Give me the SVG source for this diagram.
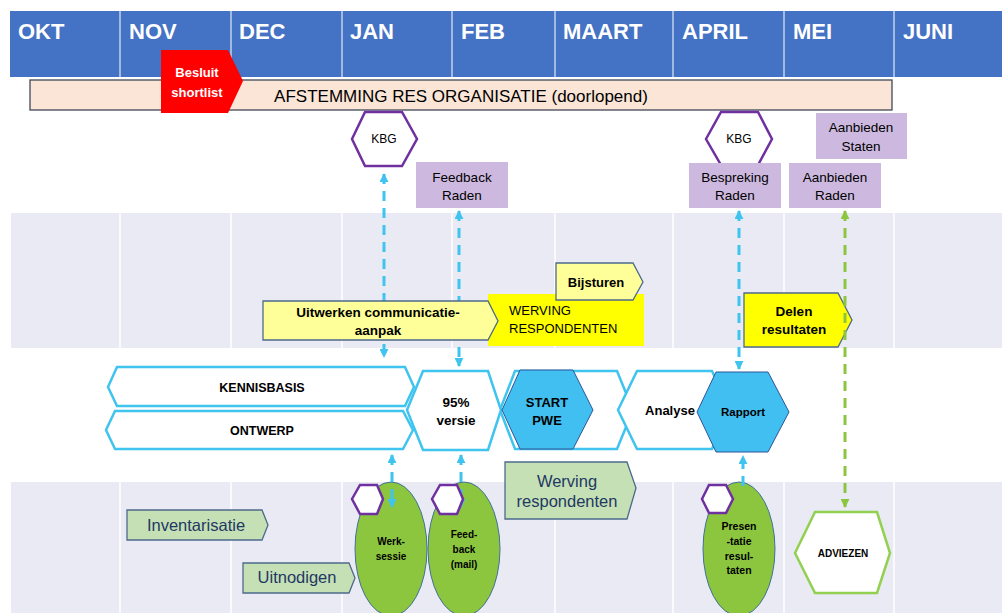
<svg xmlns="http://www.w3.org/2000/svg" width="1002" height="613" viewBox="0 0 1002 613">
<defs>
<style>
text{font-family:"Liberation Sans",Arial,sans-serif;text-anchor:middle}
.hdr{fill:#fff;font-weight:bold;font-size:22px;text-anchor:start}
.band{fill:#e9eaf4}
.vl{stroke:#fff;stroke-width:1.5}
.hcell{fill:#4472c4}
.hl{stroke:#fff;stroke-width:1}
.b{font-weight:bold}
.purp{fill:#cdb9df}
.kbg{fill:#fff;stroke:#7030a0;stroke-width:2.5}
.bhex{fill:#fff;stroke:#3fc3ef;stroke-width:2.5}
.bfill{fill:#40bff0;stroke:#2f5597;stroke-width:1}
.ly{fill:#ffff99;stroke:#4d6a8c;stroke-width:1.3}
.yy{fill:#ffff00;stroke:#4d6a8c;stroke-width:1.3}
.lg{fill:#c5e0b4;stroke:#4d6a8c;stroke-width:1.3}
.ell{fill:#8cc63f;stroke:#41719c;stroke-width:1}
.gt{fill:#1f3864;font-size:16.5px}
.cb{fill:none;stroke:#3fc3ef;stroke-width:3;stroke-dasharray:10 7}
.cg{fill:none;stroke:#8cc63f;stroke-width:3;stroke-dasharray:10 7}
</style>
<marker id="ab" viewBox="0 0 10 10" refX="9" refY="5" markerWidth="9" markerHeight="9" markerUnits="userSpaceOnUse" orient="auto-start-reverse"><path d="M0,0 L10,5 L0,10 Z" fill="#3fc3ef"/></marker>
<marker id="ag" viewBox="0 0 10 10" refX="9" refY="5" markerWidth="9" markerHeight="9" markerUnits="userSpaceOnUse" orient="auto-start-reverse"><path d="M0,0 L10,5 L0,10 Z" fill="#8cc63f"/></marker>
</defs>
<rect width="1002" height="613" fill="#fff"/>
<g id="bands">
<rect class="band" x="11" y="213" width="991" height="135"/>
<rect class="band" x="11" y="482" width="991" height="131"/>
<g class="vl">
<line x1="120" y1="213" x2="120" y2="348"/><line x1="231" y1="213" x2="231" y2="348"/><line x1="342" y1="213" x2="342" y2="348"/><line x1="452" y1="213" x2="452" y2="348"/><line x1="555" y1="213" x2="555" y2="348"/><line x1="673" y1="213" x2="673" y2="348"/><line x1="784" y1="213" x2="784" y2="348"/><line x1="894" y1="213" x2="894" y2="348"/>
<line x1="120" y1="482" x2="120" y2="613"/><line x1="231" y1="482" x2="231" y2="613"/><line x1="342" y1="482" x2="342" y2="613"/><line x1="452" y1="482" x2="452" y2="613"/><line x1="555" y1="482" x2="555" y2="613"/><line x1="673" y1="482" x2="673" y2="613"/><line x1="784" y1="482" x2="784" y2="613"/><line x1="894" y1="482" x2="894" y2="613"/>
</g>
</g>
<g id="header">
<rect class="hcell" x="10" y="11" width="992" height="66"/>
<g class="hl">
<line x1="120" y1="11" x2="120" y2="77"/><line x1="231" y1="11" x2="231" y2="77"/><line x1="342" y1="11" x2="342" y2="77"/><line x1="452" y1="11" x2="452" y2="77"/><line x1="555" y1="11" x2="555" y2="77"/><line x1="673" y1="11" x2="673" y2="77"/><line x1="784" y1="11" x2="784" y2="77"/><line x1="894" y1="11" x2="894" y2="77"/>
</g>
<text class="hdr" x="18" y="39">OKT</text>
<text class="hdr" x="129" y="39">NOV</text>
<text class="hdr" x="239" y="39">DEC</text>
<text class="hdr" x="350" y="39">JAN</text>
<text class="hdr" x="461" y="39">FEB</text>
<text class="hdr" x="563" y="39">MAART</text>
<text class="hdr" x="682" y="39">APRIL</text>
<text class="hdr" x="793" y="39">MEI</text>
<text class="hdr" x="903" y="39">JUNI</text>
</g>
<g id="afstemming">
<rect x="30" y="80" width="862" height="30" fill="#fbe5d6" stroke="#404858" stroke-width="1.3"/>
<text x="461" y="102" font-size="17">AFSTEMMING RES ORGANISATIE (doorlopend)</text>
</g>
<g id="besluit">
<polygon points="161,50 228,50 243,81 228,113 161,113" fill="#ff0000"/>
<text class="b" x="197" y="77" font-size="13" fill="#fff">Besluit</text>
<text class="b" x="197" y="97" font-size="13" fill="#fff">shortlist</text>
</g>
<g id="delen">
<polygon class="yy" points="744,293 838,293 852,320 838,347 744,347"/>
<text class="b" x="794" y="316" font-size="13.5">Delen</text>
<text class="b" x="794" y="334" font-size="13.5">resultaten</text>
</g>
<g id="werksessie">
<ellipse class="ell" cx="391" cy="549" rx="36" ry="67"/>
<text class="b" x="391" y="545" font-size="10">Werk-</text>
<text class="b" x="391" y="560" font-size="10">sessie</text>
</g>
<g id="feedback-mail">
<ellipse class="ell" cx="464" cy="549" rx="36" ry="67"/>
<text class="b" x="464" y="538" font-size="10">Feed-</text>
<text class="b" x="464" y="553" font-size="10">back</text>
<text class="b" x="464" y="568" font-size="10">(mail)</text>
</g>
<g id="presentatie">
<ellipse class="ell" cx="739" cy="549" rx="36" ry="67"/>
<text class="b" x="739" y="530" font-size="10.5">Presen</text>
<text class="b" x="739" y="545" font-size="10.5">-tatie</text>
<text class="b" x="739" y="560" font-size="10.5">resul-</text>
<text class="b" x="739" y="574" font-size="10.5">taten</text>
</g>
<g id="connectors">
<path class="cb" d="M384,174 V357" marker-start="url(#ab)" marker-end="url(#ab)"/>
<path class="cb" d="M459,211 V366" marker-start="url(#ab)" marker-end="url(#ab)"/>
<path class="cb" d="M392,455 V507" marker-start="url(#ab)" marker-end="url(#ab)"/>
<path class="cb" d="M461,455 V507" marker-start="url(#ab)" marker-end="url(#ab)"/>
<path class="cb" d="M739,211 V369" marker-start="url(#ab)" marker-end="url(#ab)"/>
<path class="cb" d="M743,486 V456" marker-end="url(#ab)"/>
<path class="cg" d="M845,211 V507" marker-start="url(#ag)" marker-end="url(#ag)"/>
</g>
<g id="werving-respondenten-top">
<rect x="488" y="294" width="156" height="52" fill="#ffff00"/>
<text x="509" y="315" font-size="13" style="text-anchor:start">WERVING</text>
<text x="509" y="333" font-size="13" style="text-anchor:start">RESPONDENTEN</text>
</g>
<g id="uitwerken">
<polygon class="ly" points="263,301 488,301 498,321 488,340 263,340"/>
<text class="b" x="378" y="317" font-size="13.5">Uitwerken communicatie-</text>
<text class="b" x="378" y="335" font-size="13.5">aanpak</text>
</g>
<g id="bijsturen">
<polygon class="ly" points="556,263 633,263 643,282 633,300 556,300"/>
<text class="b" x="596" y="287" font-size="13">Bijsturen</text>
</g>
<g id="kennisbasis">
<polygon class="bhex" points="108,387 117,367 405,367 414,387 405,406 117,406"/>
<text class="b" x="262" y="392" font-size="12.5">KENNISBASIS</text>
</g>
<g id="ontwerp">
<polygon class="bhex" points="106,430 115,411 403,411 413,430 403,449 115,449"/>
<text class="b" x="262" y="435" font-size="12.5">ONTWERP</text>
</g>
<g id="pwe-fase">
<polygon class="bhex" points="500,410 515,371 617,371 633,410 617,449 515,449"/>
</g>
<g id="versie95">
<polygon class="bhex" points="407,410 423,371 488,371 501,410 488,450 423,450"/>
<text class="b" x="456" y="407" font-size="13.5">95%</text>
<text class="b" x="456" y="425" font-size="13.5">versie</text>
</g>
<g id="start-pwe">
<polygon class="bfill" points="502,410 520,370 573,370 593,410 573,449 520,449"/>
<text class="b" x="547" y="407" font-size="13">START</text>
<text class="b" x="547" y="425" font-size="13">PWE</text>
</g>
<g id="analyse">
<polygon class="bhex" points="618,410 637,371 712,371 730,410 712,449 637,449"/>
<text class="b" x="670" y="415" font-size="13">Analyse</text>
</g>
<g id="rapport">
<polygon class="bfill" points="697,412 716,372 768,372 789,412 768,452 716,452"/>
<text class="b" x="743" y="416" font-size="11.5">Rapport</text>
</g>
<g id="kbg1">
<polygon class="kbg" points="352,139 365,112 402,112 417,139 402,166 365,166"/>
<text x="384" y="143" font-size="12">KBG</text>
</g>
<g id="kbg2">
<polygon class="kbg" points="706,139 721,112 758,112 772,139 758,165 721,165"/>
<text x="739" y="143" font-size="12">KBG</text>
</g>
<g id="feedback-raden">
<rect class="purp" x="416" y="162" width="92" height="46"/>
<text x="462" y="182" font-size="13.5">Feedback</text>
<text x="462" y="200" font-size="13.5">Raden</text>
</g>
<g id="bespreking-raden">
<rect class="purp" x="689" y="163" width="92" height="45"/>
<text x="735" y="182" font-size="13.5">Bespreking</text>
<text x="735" y="200" font-size="13.5">Raden</text>
</g>
<g id="aanbieden-raden">
<rect class="purp" x="789" y="163" width="92" height="45"/>
<text x="835" y="182" font-size="13.5">Aanbieden</text>
<text x="835" y="200" font-size="13.5">Raden</text>
</g>
<g id="aanbieden-staten">
<rect class="purp" x="816" y="113" width="91" height="46"/>
<text x="861" y="132" font-size="13.5">Aanbieden</text>
<text x="861" y="151" font-size="13.5">Staten</text>
</g>
<g id="inventarisatie">
<polygon class="lg" points="127,510 262,510 268,525 262,540 127,540"/>
<text class="gt" x="196" y="531">Inventarisatie</text>
</g>
<g id="uitnodigen">
<polygon class="lg" points="243,563 349,563 355,578 349,593 243,593"/>
<text class="gt" x="297" y="583">Uitnodigen</text>
</g>
<g id="werving-respondenten">
<polygon class="lg" points="505,462 627,462 636,488 627,519 505,519"/>
<text class="gt" x="567" y="487">Werving</text>
<text class="gt" x="567" y="507">respondenten</text>
</g>
<g id="hex-werksessie">
<polygon class="kbg" points="352,499 360,485 377,485 383,499 377,514 360,514"/>
</g>
<g id="hex-feedback">
<polygon class="kbg" points="432,499 440,485 457,485 463,499 457,514 440,514"/>
</g>
<g id="hex-presentatie">
<polygon class="kbg" points="702,499 709,485 726,485 733,499 726,513 709,513"/>
</g>
<g id="adviezen">
<polygon points="795,553 815,512 877,512 890,553 877,593 815,593" fill="#fff" stroke="#92d050" stroke-width="2.5"/>
<text class="b" x="843" y="557" font-size="10">ADVIEZEN</text>
</g>
</svg>
